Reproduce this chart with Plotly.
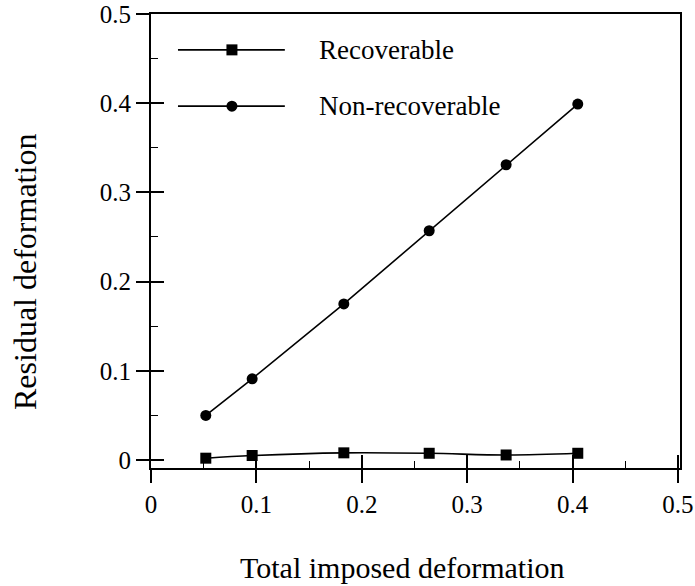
import plotly.graph_objects as go

total_deformation = [0.052, 0.096, 0.183, 0.264, 0.337, 0.405]
recoverable = [0.002, 0.005, 0.008, 0.0075, 0.0056, 0.0075]
non_recoverable = [0.050, 0.091, 0.175, 0.257, 0.331, 0.399]

x_ticks = [0, 0.1, 0.2, 0.3, 0.4, 0.5]
x_tick_labels = ["0", "0.1", "0.2", "0.3", "0.4", "0.5"]
y_ticks = [0, 0.1, 0.2, 0.3, 0.4, 0.5]
y_tick_labels = ["0", "0.1", "0.2", "0.3", "0.4", "0.5"]

FONT = "Liberation Serif"
XR = [0, 0.502]
YR = [-0.009, 0.5]

fig = go.Figure()
fig.add_trace(go.Scatter(
    x=total_deformation, y=non_recoverable, mode="lines+markers",
    name="Non-recoverable",
    line=dict(color="black", width=1.6),
    marker=dict(symbol="circle", size=11, color="black"),
    xaxis="x", yaxis="y", showlegend=False,
))
fig.add_trace(go.Scatter(
    x=total_deformation, y=recoverable, mode="lines+markers",
    name="Recoverable",
    line=dict(color="black", width=1.6, shape="spline"),
    marker=dict(symbol="square", size=11, color="black"),
    xaxis="x2", yaxis="y2", showlegend=False,
))

tickfont = dict(family=FONT, size=25, color="black")
fig.update_layout(
    width=695, height=586,
    margin=dict(l=151, r=15, t=14, b=118, autoexpand=False),
    paper_bgcolor="white", plot_bgcolor="white",
    xaxis=dict(range=XR, tickvals=x_ticks, ticktext=x_tick_labels, automargin=False,
               ticklabeloverflow="allow",
               ticks="outside", ticklen=13, tickwidth=1.5, tickcolor="black",
               showline=True, linewidth=2, linecolor="black", mirror=True,
               showgrid=False, zeroline=False, tickfont=tickfont),
    yaxis=dict(range=YR, tickvals=y_ticks, ticktext=y_tick_labels, automargin=False,
               ticklabeloverflow="allow",
               ticks="outside", ticklen=13, tickwidth=1.5, tickcolor="black",
               showline=True, linewidth=2, linecolor="black", mirror=True,
               showgrid=False, zeroline=False, tickfont=tickfont),
    xaxis2=dict(range=XR, overlaying="x", anchor="y2", side="bottom", automargin=False,
                tickvals=x_ticks, ticks="inside", ticklen=13, tickwidth=1.5,
                tickcolor="black", showticklabels=False, showline=False,
                showgrid=False, zeroline=False,
                minor=dict(tickvals=[0.05, 0.15, 0.25, 0.35, 0.45],
                           ticks="inside", ticklen=7, tickwidth=1.2,
                           tickcolor="black", showgrid=False)),
    yaxis2=dict(range=YR, overlaying="y", anchor="x2", side="left", automargin=False,
                tickvals=y_ticks, ticks="inside", ticklen=13, tickwidth=1.5,
                tickcolor="black", showticklabels=False, showline=False,
                showgrid=False, zeroline=False,
                minor=dict(tickvals=[0.05, 0.15, 0.25, 0.35, 0.45],
                           ticks="inside", ticklen=7, tickwidth=1.2,
                           tickcolor="black", showgrid=False)),
)

# axis titles
fig.add_annotation(text="Total imposed deformation", xref="paper", yref="paper",
                   x=0.476, y=-0.22, xanchor="center", yanchor="middle",
                   showarrow=False, font=dict(family=FONT, size=30, color="black"))
fig.add_annotation(text="Residual deformation", xref="paper", yref="paper",
                   x=-0.238, y=0.432, xanchor="center", yanchor="middle", textangle=-90,
                   showarrow=False, font=dict(family=FONT, size=32, color="black"))

# legend (drawn manually)
legend_rows = [("Recoverable", "square", 0.921), ("Non-recoverable", "circle", 0.797)]
for label, sym, yd in legend_rows:
    fig.add_shape(type="line", xref="x domain", yref="y domain",
                  x0=0.051, x1=0.253, y0=yd, y1=yd,
                  line=dict(color="black", width=1.6))
    fig.add_shape(type="rect" if sym == "square" else "circle",
                  xref="x domain", yref="y domain",
                  xsizemode="pixel", ysizemode="pixel",
                  xanchor=0.153, yanchor=yd, x0=-5.5, x1=5.5, y0=-5.5, y1=5.5,
                  fillcolor="black", line=dict(color="black", width=0))
    fig.add_annotation(text=label, xref="x domain", yref="y domain",
                       x=0.314, y=yd, xanchor="left", yanchor="middle",
                       showarrow=False, font=dict(family=FONT, size=27, color="black"))

fig.write_html("out.html", config={"displayModeBar": False},
               post_script="document.body.style.margin='0';")
